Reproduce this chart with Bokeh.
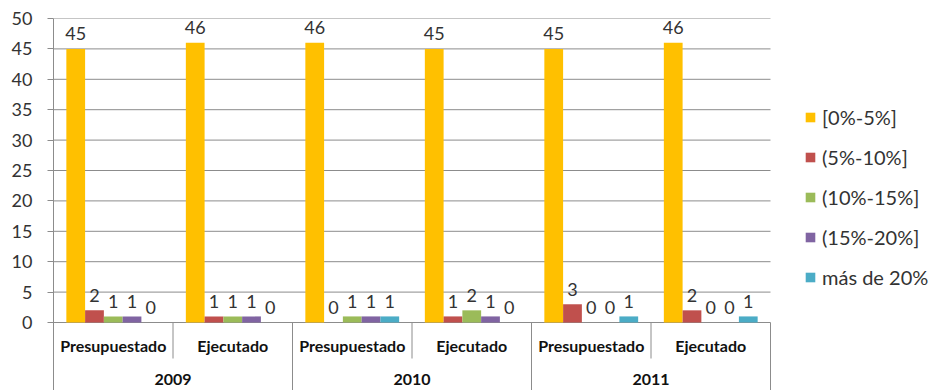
import numpy as np
from bokeh.plotting import figure
from bokeh.models import Range1d, FixedTicker, Legend, LegendItem
from bokeh.core.properties import value
from bokeh.embed import file_html
from bokeh.resources import INLINE

# ---- data ----
years = ["2009", "2010", "2011"]
stages = ["Presupuestado", "Ejecutado"]
series = ["[0%-5%]", "(5%-10%]", "(10%-15%]", "(15%-20%]", "más de 20%"]
colors = ["#FFC000", "#C0504D", "#9BBB59", "#8064A2", "#4BACC6"]
v_0_5 = [45, 46, 46, 45, 45, 46]
v_5_10 = [2, 1, 0, 1, 3, 2]
v_10_15 = [1, 1, 1, 2, 0, 0]
v_15_20 = [1, 1, 1, 1, 0, 0]
v_20 = [0, 0, 1, 0, 1, 1]
y_ticks = list(range(0, 51, 5))

values = [v_0_5, v_5_10, v_10_15, v_15_20, v_20]
n_groups = len(years) * len(stages)
stage_labels = [s for _ in years for s in stages]

# ---- layout ----
W, H = 929, 390
left, top = 53, 18
px_per_group = 119.5
frame_w = W - left
frame_h = H - top
y_max = 50
px_per_unit = 304 / y_max
y_min = -(frame_h - 304) / px_per_unit
x_end = frame_w / px_per_group
bar_w = 0.157
font = "Lato"
grid_col = "#8C8C8C"

p = figure(width=W, height=H, x_range=Range1d(0, x_end), y_range=Range1d(y_min, y_max),
           output_backend="svg", toolbar_location=None, x_axis_location=None,
           min_border_left=left, min_border_top=top, min_border_bottom=0, min_border_right=0)
p.outline_line_color = None
p.xgrid.grid_line_color = None
p.ygrid.grid_line_color = None

ax = p.yaxis[0]
ax.ticker = FixedTicker(ticks=y_ticks)
ax.axis_line_color = grid_col
ax.major_tick_line_color = grid_col
ax.major_tick_in = 0
ax.major_tick_out = 6
ax.minor_tick_line_color = None
ax.major_label_standoff = 15
ax.major_label_text_font = font
ax.major_label_text_font_size = "18px"
ax.major_label_text_color = "#333333"

# gridlines and category axis
p.segment(x0=0, x1=n_groups, y0=y_ticks, y1=y_ticks, line_color=grid_col, line_width=1)
sub_len = 36 / px_per_unit
sub_x = [i for i in range(1, n_groups, 2)]
p.segment(x0=sub_x, x1=sub_x, y0=0, y1=-sub_len, line_color=grid_col, line_width=1)
yr_x = [i for i in range(2, n_groups + 1, 2)]
p.segment(x0=yr_x, x1=yr_x, y0=0, y1=y_min, line_color=grid_col, line_width=1)

centers = np.arange(n_groups) + 0.5
renderers = []
for k, (vals, col) in enumerate(zip(values, colors)):
    xs = centers + (k - 2) * bar_w
    r = p.vbar(x=xs, top=vals, bottom=0, width=bar_w, fill_color=col, line_color=None)
    renderers.append(r)
    p.text(x=xs, y=vals, text=[str(v) for v in vals], text_align="center",
           text_baseline="alphabetic", y_offset=-15, text_font=value(font),
           text_font_size="18px", text_color="#333333")

p.text(x=centers, y=[0] * n_groups, text=stage_labels, text_align="center",
       text_baseline="middle", y_offset=23, text_font=value(font),
       text_font_size="16px", text_font_style="bold", text_color="#111111")
yr_centers = [2 * i + 1 for i in range(len(years))]
p.text(x=yr_centers, y=[0] * len(years), text=years, text_align="center",
       text_baseline="middle", y_offset=57, text_font=value(font),
       text_font_size="16px", text_font_style="bold", text_color="#111111")

legend = Legend(items=[LegendItem(label=s, renderers=[r]) for s, r in zip(series, renderers)],
                location=(751, 101))
legend.background_fill_alpha = 0
legend.border_line_color = None
legend.padding = 0
legend.margin = 0
legend.spacing = 16
legend.label_height = 24
legend.glyph_height = 12
legend.glyph_width = 12
legend.label_standoff = 6
legend.label_text_font = font
legend.label_text_font_size = "20px"
legend.label_text_color = "#333333"
p.add_layout(legend)

open("out.html", "w").write(file_html(p, INLINE))
